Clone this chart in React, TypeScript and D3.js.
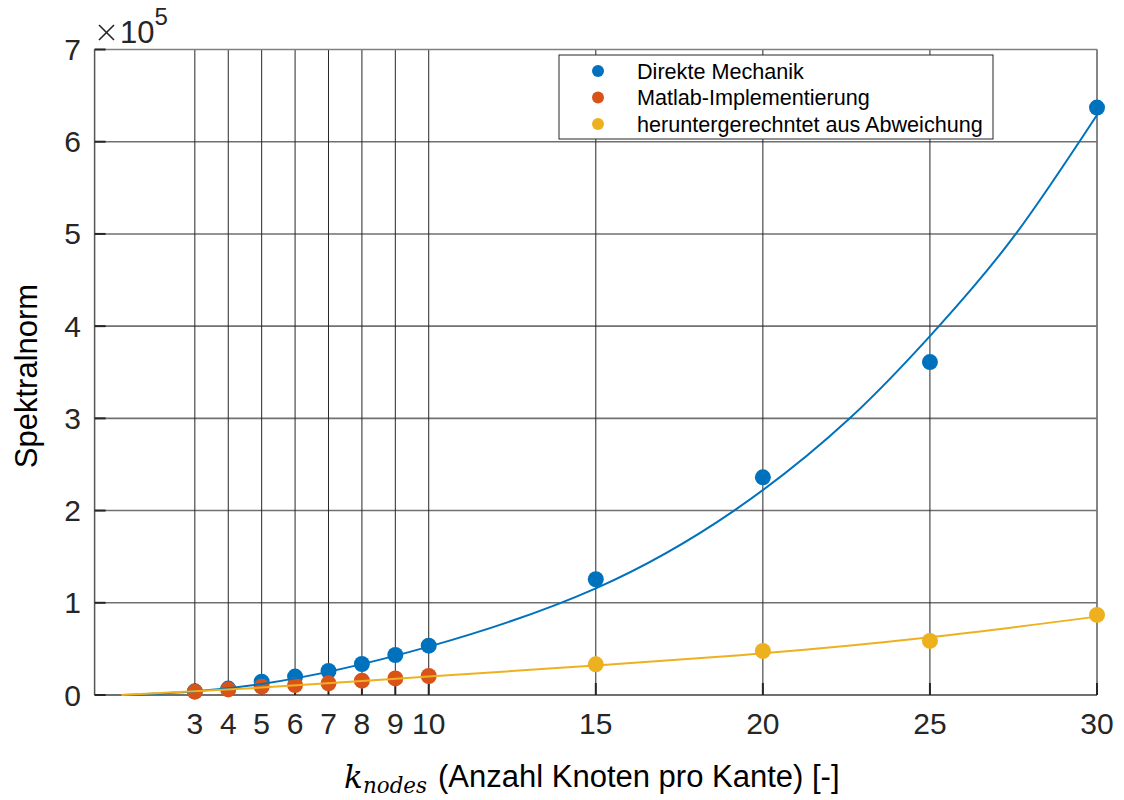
import React from "react";
import * as d3 from "d3";

// Data (values in units of 1e5)
const xTicks = [3, 4, 5, 6, 7, 8, 9, 10, 15, 20, 25, 30];
const yTicks = [0, 1, 2, 3, 4, 5, 6, 7];

const blueX = [3, 4, 5, 6, 7, 8, 9, 10, 15, 20, 25, 30];
const blueY = [0.04, 0.07, 0.144, 0.2, 0.26, 0.336, 0.434, 0.535, 1.255, 2.36, 3.61, 6.37];

const orangeX = [3, 4, 5, 6, 7, 8, 9, 10];
const orangeY = [0.036, 0.06, 0.09, 0.108, 0.127, 0.155, 0.18, 0.206];

const yellowX = [15, 20, 25, 30];
const yellowY = [0.333, 0.477, 0.586, 0.868];

// fitted curves
const blueFitX = [0.8, 5, 10, 15, 19.14, 22.6, 25.27, 27.57, 30];
const blueFitY = [0, 0.12, 0.525, 1.157, 2.0, 3.0, 4.0, 5.0, 6.29];

const yellowFitX = [0.8, 5, 10, 15, 20, 25, 30];
const yellowFitY = [0, 0.08, 0.2, 0.32, 0.452, 0.626, 0.85];

const legendLabels = ["Direkte Mechanik", "Matlab-Implementierung", "heruntergerechntet aus Abweichung"];
const colors = ["#0072BD", "#D95319", "#EDB120"];

const FONT = "'Liberation Sans', Arial, sans-serif";
const SERIF = "'DejaVu Serif', 'Liberation Serif', serif";

export default function App() {
  const x = d3.scaleLinear().domain([0, 30]).range([94.6, 1097]);
  const y = d3.scaleLinear().domain([0, 7]).range([695, 49.5]);

  const line = d3
    .line<[number, number]>()
    .x((d) => x(d[0]))
    .y((d) => y(d[1]))
    .curve(d3.curveNatural);

  const bluePath = line(blueFitX.map((v, i) => [v, blueFitY[i]]) as [number, number][]) || "";
  const yellowPath = line(yellowFitX.map((v, i) => [v, yellowFitY[i]]) as [number, number][]) || "";

  const [x0, x1] = x.range();
  const [y0, y1] = y.range();

  return (
    <svg
      width={1124}
      height={800}
      style={{ position: "absolute", left: 0, top: 0, background: "#fff" }}
      fontFamily={FONT}
    >
      <rect x={0} y={0} width={1124} height={800} fill="#fff" />
      {/* horizontal grid */}
      {yTicks.slice(1, -1).map((t) => (
        <line key={"hg" + t} x1={x0} x2={x1} y1={y(t)} y2={y(t)} stroke="#707070" strokeWidth={1.6} />
      ))}
      {/* vertical grid */}
      {xTicks.map((t) => (
        <line key={"vg" + t} x1={x(t)} x2={x(t)} y1={y1} y2={y0} stroke="#262626" strokeWidth={1} />
      ))}
      {/* box */}
      <line x1={x0} x2={x1} y1={y1} y2={y1} stroke="#808080" strokeWidth={1.5} />
      <line x1={x1} x2={x1} y1={y1} y2={y0} stroke="#808080" strokeWidth={1.5} />
      <line x1={x0} x2={x0} y1={y1} y2={y0} stroke="#555" strokeWidth={1.5} />
      <line x1={x0} x2={x1} y1={y0} y2={y0} stroke="#404040" strokeWidth={1.5} />
      {/* y ticks */}
      {yTicks.map((t) => (
        <g key={"yt" + t}>
          <line x1={x0} x2={x0 + 11} y1={y(t)} y2={y(t)} stroke="#262626" strokeWidth={2} />
          <text x={81} y={y(t)} textAnchor="end" dominantBaseline="central" fontSize={30} fill="#262626">
            {t}
          </text>
        </g>
      ))}
      {/* x ticks */}
      {xTicks.map((t) => (
        <g key={"xt" + t}>
          <line x1={x(t)} x2={x(t)} y1={y0} y2={y0 - 12} stroke="#262626" strokeWidth={2} />
          <text x={x(t)} y={734} textAnchor="middle" fontSize={30} fill="#262626">
            {t}
          </text>
        </g>
      ))}
      {/* exponent */}
      <g stroke="#262626" strokeWidth={1.6}>
        <line x1={99} y1={25} x2={114} y2={40} />
        <line x1={114} y1={25} x2={99} y2={40} />
      </g>
      <text x={120} y={43} fontSize={31} fill="#262626">
        <tspan>10</tspan>
        <tspan dy={-18} fontSize={24}>5</tspan>
      </text>
      {/* axis labels */}
      <text
        transform={`translate(37, 376) rotate(-90)`}
        textAnchor="middle"
        fontSize={31}
        fill="#000"
      >
        Spektralnorm
      </text>
      <text x={344} y={788} fontSize={31} fontFamily={SERIF} fontStyle="italic" fill="#000">
        k
      </text>
      <text x={363} y={793} fontSize={22} fontFamily={SERIF} fontStyle="italic" fill="#000" textLength={64} lengthAdjust="spacingAndGlyphs">
        nodes
      </text>
      <text x={438} y={787} fontSize={31} fill="#000">
        (Anzahl Knoten pro Kante) [-]
      </text>
      {/* markers */}
      {blueX.map((v, i) => (
        <circle key={"b" + i} cx={x(v)} cy={y(blueY[i])} r={8} fill={colors[0]} />
      ))}
      {orangeX.map((v, i) => (
        <circle key={"o" + i} cx={x(v)} cy={y(orangeY[i])} r={8} fill={colors[1]} />
      ))}
      {yellowX.map((v, i) => (
        <circle key={"y" + i} cx={x(v)} cy={y(yellowY[i])} r={8} fill={colors[2]} />
      ))}
      {/* fit curves */}
      <path d={bluePath} fill="none" stroke={colors[0]} strokeWidth={2} />
      <path d={yellowPath} fill="none" stroke={colors[2]} strokeWidth={2} />
      {/* legend */}
      <rect x={559} y={55} width={434} height={84} fill="#fff" stroke="#262626" strokeWidth={1} />
      {legendLabels.map((l, i) => (
        <g key={"lg" + i}>
          <circle cx={598} cy={71 + i * 26.5} r={6} fill={colors[i]} />
          <text x={637} y={71 + i * 26.5} dominantBaseline="central" fontSize={21.6} fill="#000">
            {l}
          </text>
        </g>
      ))}
    </svg>
  );
}
